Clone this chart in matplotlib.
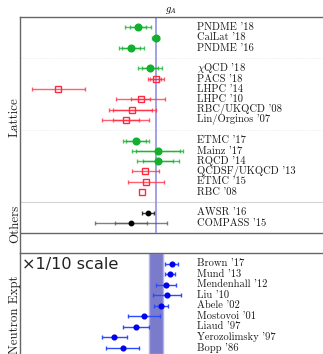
import numpy as np
import matplotlib.pyplot as plt
from matplotlib.transforms import blended_transform_factory

plt.rcParams['mathtext.fontset'] = 'cm'

# Lattice + other determinations (upper panel)
top_labels = ["PNDME '18", "CalLat '18", "PNDME '16",
              r"$\chi$QCD '18", "PACS '18", "LHPC '14", "LHPC '10", "RBC/UKQCD '08", "Lin/Orginos '07",
              "ETMC '17", "Mainz '17", "RQCD '14", "QCDSF/UKQCD '13", "ETMC '15", "RBC '08",
              "AWSR '16", "COMPASS '15"]
top_rows = [0, 1, 2, 4, 5, 6, 7, 8, 9, 11, 12, 13, 14, 15, 16, 18, 19]
top_vals = [1.218, 1.271, 1.196, 1.254, 1.272, 0.973, 1.226, 1.200, 1.180,
            1.211, 1.278, 1.279, 1.240, 1.242, 1.230, 1.247, 1.196]
top_err_in = [0.025, 0.007, 0.028, 0.025, 0.017, 0.0, 0.029, 0.061, 0.040,
              0.032, 0.067, 0.046, 0.0, 0.0, 0.0, 0.0, 0.049]
top_err_out = [0.040, 0.011, 0.038, 0.036, 0.025, 0.080, 0.075, 0.071, 0.072,
               0.040, 0.078, 0.064, 0.040, 0.056, 0.0, 0.018, 0.110]
top_kind = ['g', 'g', 'g', 'g', 'r', 'r', 'r', 'r', 'r',
            'g', 'g', 'g', 'r', 'r', 'r', 'k', 'k']
separators = [3, 10]

# Neutron decay experiments (lower panel, x1/10 scale)
exp_labels = ["Brown '17", "Mund '13", "Mendenhall '12", "Liu '10", "Abele '02",
              "Mostovoi '01", "Liaud '97", "Yerozolimsky '97", "Bopp '86"]
exp_vals = [1.2772, 1.2766, 1.2754, 1.2758, 1.2738, 1.2686, 1.2661, 1.2595, 1.2621]
exp_err = [0.0020, 0.0016, 0.0030, 0.0043, 0.0021, 0.0049, 0.0040, 0.0039, 0.0051]
g_ref = 1.2723
g_ref_err = 0.0023

W, H = 323, 354
fig = plt.figure(figsize=(W / 100, H / 100), dpi=100)
label_font = dict(family='cmr10', size=7.6, color='#1a1a1a')

styles = {
    'g': dict(c='#12b02c', marker='o', ms=4.8, mfc='#12b02c'),
    'r': dict(c='#ff2a40', marker='s', ms=4.6, mfc='none'),
    'k': dict(c='#000000', marker='o', ms=3.2, mfc='#000000'),
}

# upper panel
ax1 = fig.add_axes([20 / W, 101 / H, 320 / W, 236 / H])
ax1.set_xlim(g_ref - 136 / 326, g_ref + 184 / 326)
ax1.set_ylim(21.93, -1)
ax1.vlines(g_ref, -1, 20, color='#9a9ae6', lw=1.3, zorder=1)
for s in separators:
    ax1.axhline(s, color='#e6e6e6', lw=0.6, ls=':', zorder=0)
ax1.axhline(17, color='#d4d4d4', lw=0.8, zorder=0)
ax1.axhline(20, color='#666666', lw=1.0, zorder=0)

trans1 = blended_transform_factory(fig.transFigure, ax1.transData)
for lab, r, v, ei, eo, k in zip(top_labels, top_rows, top_vals, top_err_in, top_err_out, top_kind):
    st = styles[k]
    ecol = '#555555' if lab.startswith('COMPASS') else st['c']
    for e in (eo, ei):
        if e > 0:
            ax1.errorbar(v, r, xerr=e, fmt='none', ecolor=ecol, elinewidth=1.0,
                         capsize=1.6, capthick=1.0, alpha=0.75, zorder=2)
    ax1.plot(v, r, marker=st['marker'], ms=st['ms'], color=st['c'], mfc=st['mfc'],
             mew=1.0, ls='none', zorder=3)
    ax1.text(197 / W, r, lab, transform=trans1, ha='left', va='center', **label_font)

# lower panel
ax2 = fig.add_axes([20 / W, 0, 320 / W, 101 / H])
ax2.set_xlim(g_ref - 136 / 3260, g_ref + 184 / 3260)
ax2.set_ylim(8.6, -1)
ax2.axvspan(g_ref - g_ref_err, g_ref + g_ref_err, facecolor='#7b7bcc', edgecolor='#b0b0ee',
            lw=1.0, zorder=1)
exp_rows = np.arange(len(exp_labels))
ax2.errorbar(exp_vals, exp_rows, xerr=exp_err, fmt='o', color='#0000ee', ms=3.4,
             ecolor='#2a4cff', elinewidth=1.0, capsize=1.6, capthick=1.0, zorder=3)
trans2 = blended_transform_factory(fig.transFigure, ax2.transData)
for r, lab in zip(exp_rows, exp_labels):
    ax2.text(197 / W, r, lab, transform=trans2, ha='left', va='center', **label_font)
ax2.text(22 / W, 0.1, u'\u00d71/10 scale', transform=trans2, ha='left', va='center',
         fontsize=11.6, family='DejaVu Sans', color='#222222')

for ax in (ax1, ax2):
    ax.set_xticks([])
    ax.set_yticks([])
    ax.spines['right'].set_visible(False)
    ax.spines['bottom'].set_visible(False)
    for sp in ('top', 'left'):
        ax.spines[sp].set_color('#666666')
        ax.spines[sp].set_linewidth(1.0)

# titles and group labels
fig.text(171 / W, 1 - 11 / H, r'$g_A$', ha='center', va='center', fontsize=7.5)
side_font = dict(family='cmr10', size=9.3, color='#222222', rotation=90, ha='center', va='center')
fig.text(15 / W, 1 - 117.5 / H, 'Lattice', **side_font)
fig.text(15 / W, 1 - 224 / H, 'Others', **side_font)
fig.text(15 / W, 1 - 314.5 / H, 'Neutron Expt', **side_font)

fig.savefig('out.png', dpi=100)
